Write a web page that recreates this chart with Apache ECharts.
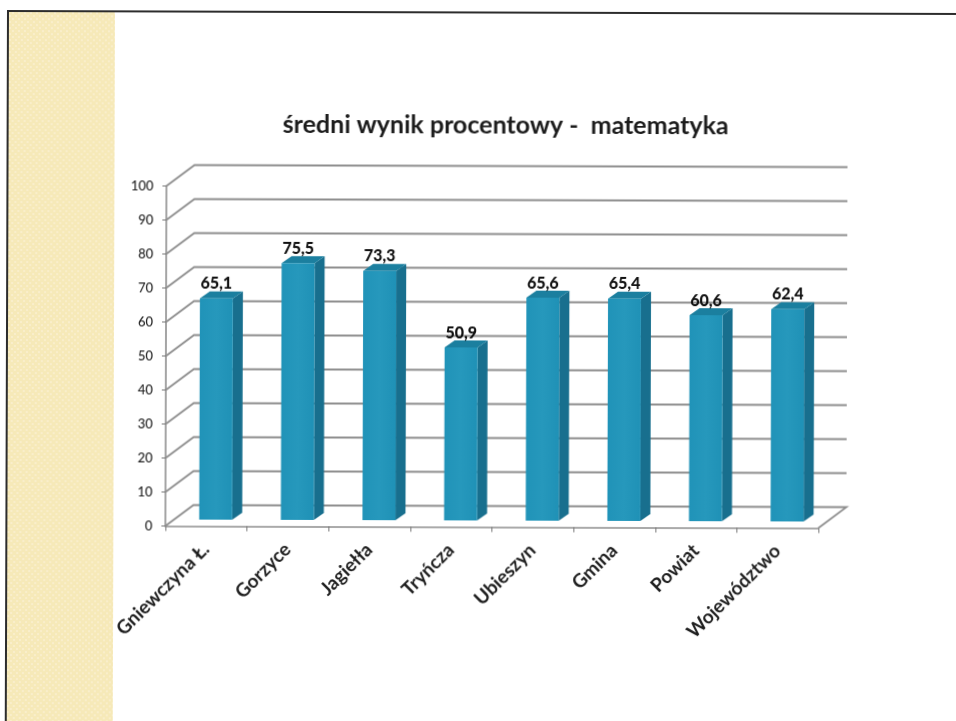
<!DOCTYPE html>
<html>
<head>
<meta charset="utf-8">
<style>
  html, body { margin: 0; padding: 0; background: #fff; overflow: hidden; }
  /* the reference is a slightly crooked, soft scan */
  #chart { width: 956px; height: 721px; transform: rotate(0.18deg); transform-origin: 8px 10px; filter: blur(0.45px); }
</style>
<script src="https://cdn.jsdelivr.net/npm/echarts@6/dist/echarts.min.js"></script>
</head>
<body>
<div id="chart"></div>
<script>
const categories = ['Gniewczyna Ł.', 'Gorzyce', 'Jagiełła', 'Tryńcza', 'Ubieszyn', 'Gmina', 'Powiat', 'Województwo']
const values = [65.1, 75.5, 73.3, 50.9, 65.6, 65.4, 60.6, 62.4]
const wallTicks = [0, 10, 20, 30, 40, 50, 60, 70, 80, 90, 100]

// fake 3d: how far the back wall and the bars sit from the front plane
const wallDepth = [28, -21]
const barShift = [9.5, -6.5]
const barDepth = [10, -7]
const barWidth = 33

// the dotted yellow strip on the left of the slide
const strip = document.createElement('canvas')
strip.width = 6
strip.height = 6
const stripCtx = strip.getContext('2d')
stripCtx.fillStyle = '#f6e9b8'
stripCtx.fillRect(0, 0, 6, 6)
stripCtx.fillStyle = '#f9eecb'
stripCtx.fillRect(0, 0, 2, 2)
stripCtx.fillRect(3, 3, 2, 2)

const myChart = echarts.init(document.getElementById('chart'), null, { renderer: 'canvas' })

function renderWall (params, api) {
  const tick = api.value(0)
  const left = api.coord([0, tick])
  const last = categories.length - 1
  const band = api.size([1, 0])[0]
  const x0 = left[0] - band / 2
  const x1 = api.coord([last, tick])[0] + band / 2
  const y = left[1]
  const points = [[x0, y], [x0 + wallDepth[0], y + wallDepth[1]], [x1 + wallDepth[0], y + wallDepth[1]]]
  // the floor also closes on the right
  if (tick === 0) points.push([x1, y])
  return {
    type: 'polyline',
    shape: { points: points },
    style: { fill: null, stroke: '#8e8e8e', lineWidth: 1.8 }
  }
}

function renderBar (params, api) {
  const i = api.value(0)
  const val = api.value(1)
  const top = api.coord([i, val])
  const base = api.coord([i, 0])
  const xl = top[0] - barWidth / 2 + barShift[0]
  const xr = xl + barWidth
  const yt = top[1] + barShift[1]
  const yb = base[1] + barShift[1]
  const dx = barDepth[0]
  const dy = barDepth[1]
  return {
    type: 'group',
    children: [
      {
        type: 'polygon',
        shape: { points: [[xr, yt], [xr + dx, yt + dy], [xr + dx, yb + dy], [xr, yb]] },
        style: { fill: '#186f8e' }
      },
      {
        type: 'polygon',
        shape: { points: [[xl, yt], [xl + dx, yt + dy], [xr + dx, yt + dy], [xr, yt]] },
        style: { fill: '#1b7f9f' }
      },
      {
        type: 'rect',
        shape: { x: xl, y: yt, width: barWidth, height: yb - yt },
        style: {
          fill: new echarts.graphic.LinearGradient(0, 0, 1, 0, [
            { offset: 0, color: '#2093b8' },
            { offset: 0.5, color: '#2698bc' },
            { offset: 1, color: '#1f91b6' }
          ])
        }
      },
      {
        type: 'text',
        style: {
          x: xl + barWidth / 2,
          y: yt - 14.5,
          text: String(val).replace('.', ','),
          align: 'center',
          verticalAlign: 'middle',
          fontFamily: 'Lato',
          fontWeight: 900,
          fontSize: 16,
          fill: '#111'
        }
      }
    ]
  }
}

const option = {
  animation: false,
  backgroundColor: '#fff',
  title: {
    text: 'średni wynik procentowy -  matematyka',
    left: 501,
    top: 106,
    textAlign: 'center',
    textStyle: { fontFamily: 'Lato', fontWeight: 'bold', fontSize: 25, color: '#1c1c1c' }
  },
  graphic: [
    {
      type: 'rect',
      shape: { x: 8, y: 10, width: 107, height: 711 },
      style: { fill: { image: strip, repeat: 'repeat' } },
      silent: true,
      z: -10
    },
    {
      type: 'polyline',
      shape: { points: [[8, 721], [8, 11], [956, 11]] },
      style: { fill: null, stroke: '#2c2c2c', lineWidth: 2 },
      silent: true,
      z: -9
    }
  ],
  grid: { left: 167, right: 136, top: 185.5, height: 340 },
  xAxis: {
    type: 'category',
    data: categories,
    axisLine: { lineStyle: { color: '#8f8f8f', width: 1.6 } },
    axisTick: { show: true, length: 5, lineStyle: { color: '#777' } },
    axisLabel: {
      interval: 0,
      rotate: 45,
      margin: 20,
      fontFamily: 'Lato',
      fontWeight: 'bold',
      fontSize: 19,
      color: '#1f1f1f'
    }
  },
  yAxis: {
    type: 'value',
    min: 0,
    max: 100,
    interval: 10,
    splitLine: { show: false },
    axisLine: { show: true, lineStyle: { color: '#8f8f8f', width: 1.6 } },
    axisTick: { show: true, length: 4, lineStyle: { color: '#777' } },
    axisLabel: { margin: 13, fontFamily: 'Lato', fontSize: 13, fontWeight: 500, color: '#222' }
  },
  series: [
    {
      type: 'custom',
      renderItem: renderWall,
      data: wallTicks.map(t => [t]),
      encode: { y: 0 },
      clip: false,
      silent: true,
      z: 1
    },
    {
      type: 'custom',
      renderItem: renderBar,
      data: values.map((v, i) => [i, v]),
      encode: { x: 0, y: 1 },
      clip: false,
      z: 2
    }
  ]
}
myChart.setOption(option)
</script>
</body>
</html>
